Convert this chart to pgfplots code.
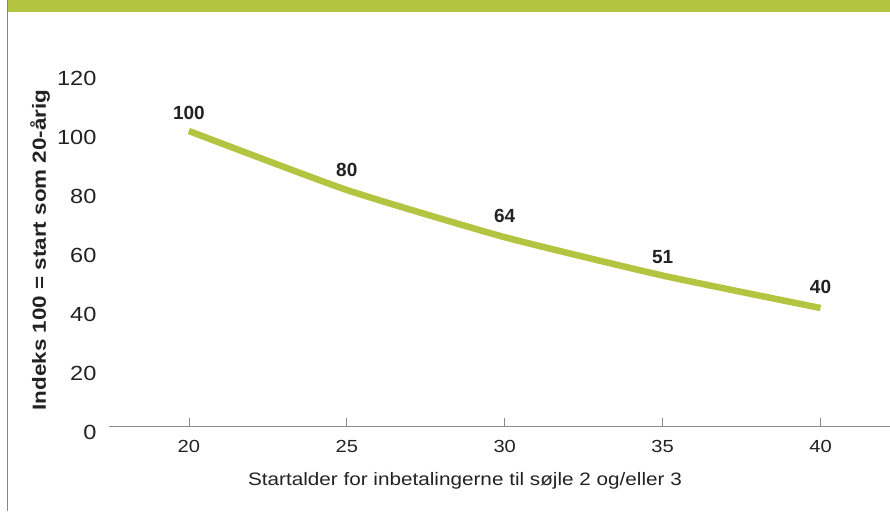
\documentclass[border=0pt]{standalone}
\usepackage{fontspec}
\setmainfont{Liberation Sans}
\newfontfamily\widefont[FakeStretch=1.15]{Liberation Sans}
\newfontfamily\ylabfont[FakeStretch=1.18]{Liberation Sans}
\usepackage{pgfplots}
\pgfplotsset{compat=1.18}
\definecolor{lgreen}{HTML}{B3C540}
\definecolor{gridgray}{HTML}{C4C4C4}
\definecolor{axgray}{HTML}{8A8A8A}
\definecolor{txt}{HTML}{222222}
\begin{document}
\begin{tikzpicture}
\useasboundingbox (0pt,0pt) rectangle (890pt,511pt);
\fill[lgreen] (7pt,499pt) rectangle (890pt,511pt);
\draw[axgray, line width=1.2pt] (7.5pt,0pt) -- (7.5pt,511pt);
\begin{axis}[
  at={(109pt,85pt)}, anchor=south west,
  scale only axis, width=781pt, height=354pt,
  xmin=17.47, xmax=42.2, ymin=0, ymax=120,
  axis x line*=bottom, axis y line=none,
  axis line style={axgray, line width=1pt},
  xtick={20,25,30,35,40}, ytick={0,20,40,60,80,100,120},
  ymajorgrids, grid style={gridgray, line width=1pt},
  major tick length=8pt,
  xtick style={axgray, line width=0.8pt},
  tick align=inside,
  /pgf/number format/assume math mode=true,
  xticklabel style={font=\widefont\fontsize{17.5}{20}\selectfont, text=txt, anchor=center, yshift=-20pt},
  clip=false,
]
\foreach \v in {0,20,40,60,80,100,120}{
  \edef\tmp{\noexpand\node[anchor=east, font=\noexpand\widefont\noexpand\fontsize{20.5}{23}\noexpand\selectfont, text=txt] at (axis cs:17.47,\v) [xshift=-9pt, yshift=-6pt] {\v};}
  \tmp
}
\addplot[lgreen, line width=6.5pt, smooth, tension=0.3, line cap=butt] coordinates {(20,100) (25,80) (30,64) (35,51) (40,40)};
\node[font=\bfseries\fontsize{19}{21}\selectfont, text=txt] at (axis cs:20,100) [yshift=18pt] {100};
\node[font=\bfseries\fontsize{19}{21}\selectfont, text=txt] at (axis cs:25,80) [yshift=20pt] {80};
\node[font=\bfseries\fontsize{19}{21}\selectfont, text=txt] at (axis cs:30,64) [yshift=21pt] {64};
\node[font=\bfseries\fontsize{19}{21}\selectfont, text=txt] at (axis cs:35,51) [yshift=18pt] {51};
\node[font=\bfseries\fontsize{19}{21}\selectfont, text=txt] at (axis cs:40,40) [yshift=21pt] {40};
\end{axis}
\node[rotate=90, font=\ylabfont\bfseries\fontsize{19}{21}\selectfont, text=txt] at (40pt,261pt) {Indeks 100 = start som 20-årig};
\node[font=\widefont\fontsize{18}{20}\selectfont, text=txt] at (465pt,30pt) {Startalder for inbetalingerne til søjle 2 og/eller 3};
\end{tikzpicture}
\end{document}
